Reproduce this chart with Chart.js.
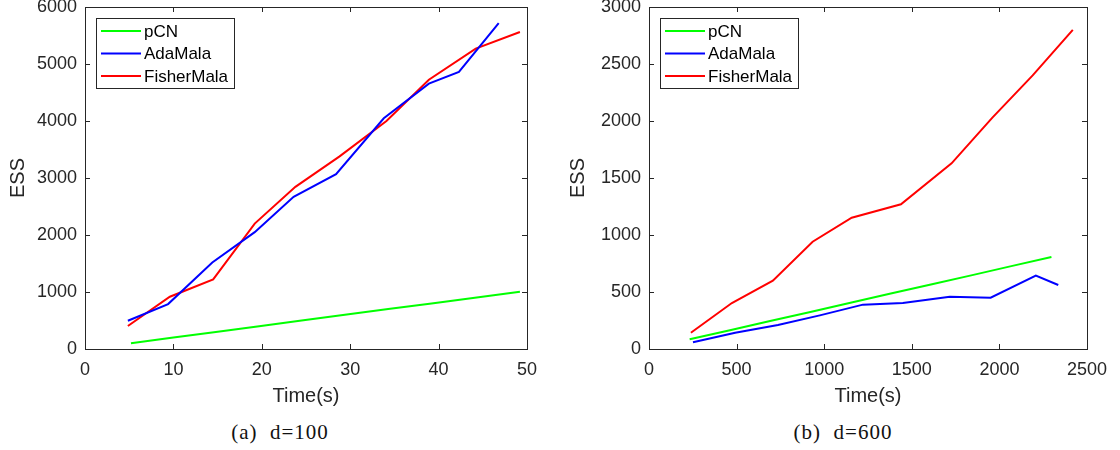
<!DOCTYPE html>
<html>
<head>
<meta charset="utf-8">
<script src="https://cdn.jsdelivr.net/npm/chart.js@4"></script>
<style>
  body { margin: 0; background: #fff; width: 1120px; height: 450px; position: relative; overflow: hidden; }
  .panel { position: absolute; top: 0; width: 560px; height: 410px; }
  .caption { position: absolute; top: 420px; width: 560px; text-align: center; letter-spacing: 1px;
             font-family: "Liberation Serif", "DejaVu Serif", serif; font-size: 21px; color: #111; white-space: pre; }
</style>
</head>
<body>
<div class="panel" style="left:0"><canvas id="chartA" width="560" height="410"></canvas></div>
<div class="panel" style="left:560px"><canvas id="chartB" width="560" height="410"></canvas></div>
<div class="caption" style="left:0">(a)  d=100</div>
<div class="caption" style="left:563px">(b)  d=600</div>
<script>
// d=100 panel, time in seconds / ESS
var timePcnA   = [5.2, 10.0, 14.8, 19.7, 24.5, 29.4, 34.3, 39.2, 44.1, 49.2];
var essPcnA    = [100, 200, 300, 400, 500, 600, 700, 800, 900, 1005];
var timeAdaA   = [4.85, 9.4, 14.4, 19.2, 23.6, 28.4, 33.8, 38.9, 42.3, 46.8];
var essAdaA    = [496, 788, 1519, 2050, 2669, 3066, 4048, 4655, 4860, 5718];
var timeFishA  = [4.85, 9.6, 14.5, 19.2, 23.8, 28.8, 34.1, 38.9, 44.2, 49.2];
var essFishA   = [403, 917, 1221, 2200, 2845, 3380, 4001, 4725, 5269, 5561];

// d=600 panel
var timePcnB   = [232, 462, 691, 921, 1150, 1380, 1609, 1839, 2068, 2297];
var essPcnB    = [85, 165, 245, 325, 406, 486, 566, 646, 727, 807];
var timeAdaB   = [251, 492, 736, 975, 1221, 1449, 1717, 1950, 2208, 2336];
var essAdaB    = [59, 143, 211, 295, 389, 403, 459, 450, 643, 561];
var timeFishB  = [239, 473, 707, 934, 1157, 1438, 1727, 1960, 2190, 2419];
var essFishB   = [143, 403, 599, 941, 1152, 1269, 1629, 2030, 2400, 2800];

var seriesNames = ['pCN', 'AdaMala', 'FisherMala'];
var seriesColors = ['#00ff00', '#0000ff', '#ff0000'];

var xTicksA = [0, 10, 20, 30, 40, 50];
var yTicksA = [0, 1000, 2000, 3000, 4000, 5000, 6000];
var xTicksB = [0, 500, 1000, 1500, 2000, 2500];
var yTicksB = [0, 500, 1000, 1500, 2000, 2500, 3000];

var axisColor = '#262626';
var tickFont = { family: 'Liberation Sans, Arial, sans-serif', size: 18 };
var titleFont = { family: 'Liberation Sans, Arial, sans-serif', size: 20 };

function pts(xs, ys) {
  return xs.map(function (x, i) { return { x: x, y: ys[i] }; });
}

// box with inward ticks on all four sides, like a matlab axes
var boxPlugin = {
  id: 'boxPlugin',
  afterDatasetsDraw: function (chart) {
    var ctx = chart.ctx, a = chart.chartArea;
    var xs = chart.scales.x, ys = chart.scales.y;
    ctx.save();
    ctx.strokeStyle = axisColor;
    ctx.lineWidth = 1;
    ctx.strokeRect(a.left + 0.5, a.top + 0.5, a.right - a.left, a.bottom - a.top);
    ctx.beginPath();
    xs.ticks.forEach(function (t) {
      var px = Math.round(xs.getPixelForValue(t.value)) + 0.5;
      ctx.moveTo(px, a.bottom); ctx.lineTo(px, a.bottom - 5);
      ctx.moveTo(px, a.top); ctx.lineTo(px, a.top + 5);
    });
    ys.ticks.forEach(function (t) {
      var py = Math.round(ys.getPixelForValue(t.value)) + 0.5;
      ctx.moveTo(a.left, py); ctx.lineTo(a.left + 5, py);
      ctx.moveTo(a.right, py); ctx.lineTo(a.right - 5, py);
    });
    ctx.stroke();
    ctx.restore();
  },
  afterDraw: function (chart) {
    // legend box in the upper left corner
    var ctx = chart.ctx, a = chart.chartArea;
    var bx = a.left + 11, by = a.top + 11, bw = 138, bh = 70;
    ctx.save();
    ctx.fillStyle = '#fff';
    ctx.fillRect(bx, by, bw, bh);
    ctx.strokeStyle = axisColor;
    ctx.lineWidth = 1;
    ctx.strokeRect(bx + 0.5, by + 0.5, bw, bh);
    ctx.font = '17px "Liberation Sans", Arial, sans-serif';
    ctx.textBaseline = 'middle';
    chart.data.datasets.forEach(function (ds, i) {
      var ry = by + 13 + i * 22.5;
      ctx.strokeStyle = ds.borderColor;
      ctx.lineWidth = 2;
      ctx.beginPath();
      ctx.moveTo(bx + 5, ry); ctx.lineTo(bx + 45, ry);
      ctx.stroke();
      ctx.fillStyle = '#000';
      ctx.fillText(ds.label, bx + 48, ry + 1);
    });
    ctx.restore();
  }
};

function plain(v) { return String(v); }

function makeChart(id, sets, xTicks, yTicks, yAxisWidth) {
  var datasets = sets.map(function (s, i) {
    return {
      label: seriesNames[i],
      data: pts(s[0], s[1]),
      borderColor: seriesColors[i],
      backgroundColor: seriesColors[i],
      borderWidth: 2,
      pointRadius: 0,
      tension: 0,
      fill: false
    };
  });
  return new Chart(document.getElementById(id).getContext('2d'), {
    type: 'line',
    data: { datasets: datasets },
    options: {
      responsive: false,
      animation: false,
      layout: { padding: { top: 7, right: 33, left: 0, bottom: 0 } },
      plugins: { legend: { display: false }, tooltip: { enabled: false } },
      scales: {
        x: {
          type: 'linear',
          min: xTicks[0], max: xTicks[xTicks.length - 1],
          afterBuildTicks: function (s) { s.ticks = xTicks.map(function (v) { return { value: v }; }); },
          afterFit: function (s) { s.height = 61; s.paddingLeft = 0; s.paddingRight = 0; },
          grid: { display: false, drawTicks: false },
          border: { display: false },
          ticks: { color: axisColor, font: tickFont, padding: 10, maxRotation: 0, callback: plain },
          title: { display: true, text: 'Time(s)', color: axisColor, font: titleFont, padding: { top: 0, bottom: 2 } }
        },
        y: {
          min: yTicks[0], max: yTicks[yTicks.length - 1],
          afterBuildTicks: function (s) { s.ticks = yTicks.map(function (v) { return { value: v }; }); },
          afterFit: function (s) { s.width = yAxisWidth; s.paddingTop = 0; s.paddingBottom = 0; },
          grid: { display: false, drawTicks: false },
          border: { display: false },
          ticks: { color: axisColor, font: tickFont, padding: 8, callback: plain },
          title: { display: true, text: 'ESS', color: axisColor, font: titleFont, padding: { top: 6, bottom: 0 } }
        }
      }
    },
    plugins: [boxPlugin]
  });
}

makeChart('chartA', [[timePcnA, essPcnA], [timeAdaA, essAdaA], [timeFishA, essFishA]], xTicksA, yTicksA, 85);
makeChart('chartB', [[timePcnB, essPcnB], [timeAdaB, essAdaB], [timeFishB, essFishB]], xTicksB, yTicksB, 89);
</script>
</body>
</html>
